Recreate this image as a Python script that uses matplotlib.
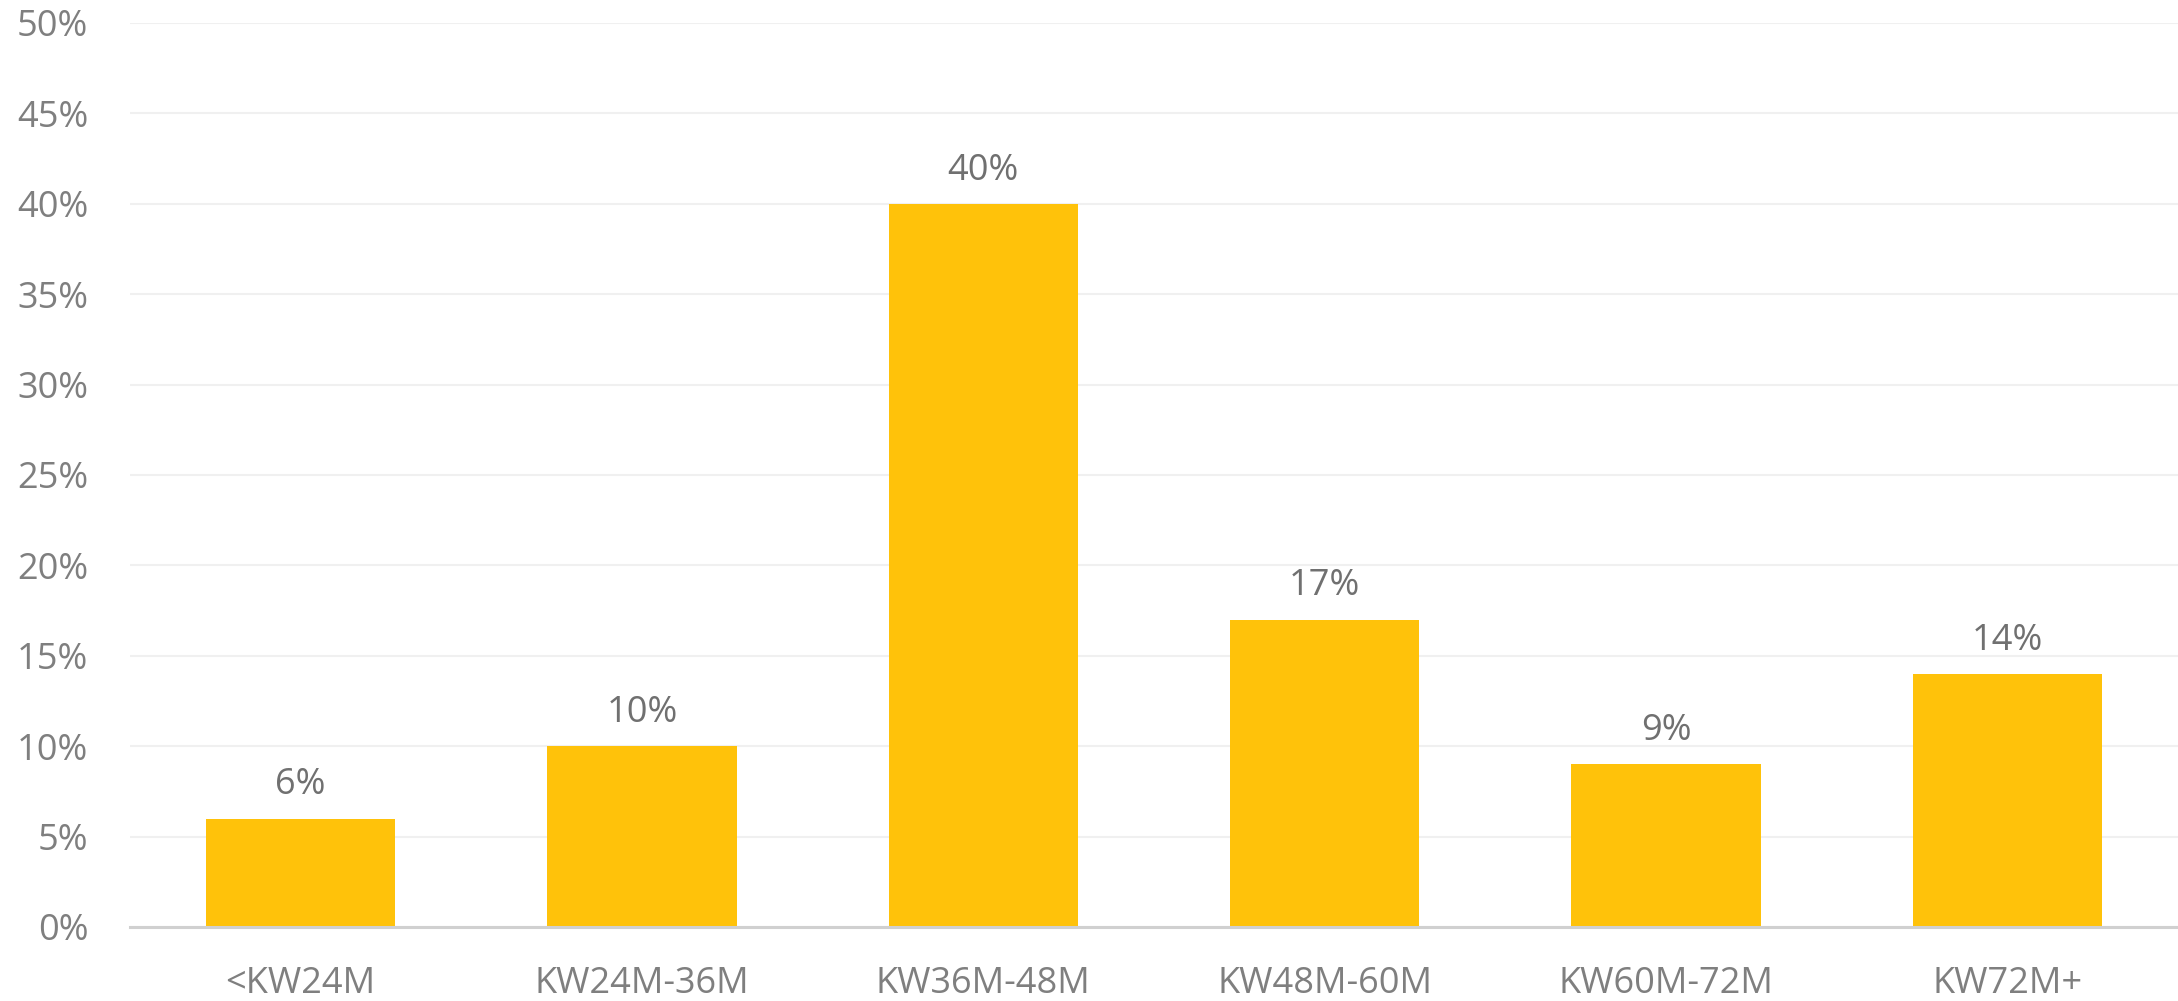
import matplotlib.pyplot as plt
from matplotlib.ticker import FuncFormatter

categories = ['<KW24M', 'KW24M-36M', 'KW36M-48M', 'KW48M-60M', 'KW60M-72M', 'KW72M+']
shares = [6, 10, 40, 17, 9, 14]
yticks = [0, 5, 10, 15, 20, 25, 30, 35, 40, 45, 50]

grey = '#7f7f7f'
plt.rcParams['font.family'] = ['Open Sans', 'DejaVu Sans']

fig = plt.figure(figsize=(21.78, 10.01), dpi=100)
ax = fig.add_axes([130 / 2178, 1 - 927 / 1001, 2048 / 2178, 904 / 1001])

x = list(range(len(categories)))
bars = ax.bar(x, shares, width=0.555, color='#ffc20a', zorder=3)

for b, v in zip(bars, shares):
    ax.annotate(f'{v}%', (b.get_x() + b.get_width() / 2, v),
                xytext=(0, 11), textcoords='offset points',
                ha='center', va='bottom', fontsize=26, color='#707070')

ax.set_xlim(-0.5, len(categories) - 0.5)
ax.set_ylim(0, 50)
ax.set_yticks(yticks)
ax.yaxis.set_major_formatter(FuncFormatter(lambda v, p: f'{v:.0f}%'))
ax.set_xticks(x)
ax.set_xticklabels(categories)
ax.grid(axis='y', color='#f0f0f0', linewidth=1.5, zorder=0)
ax.tick_params(axis='both', length=0, labelsize=26, labelcolor=grey)
ax.tick_params(axis='y', pad=30)
ax.tick_params(axis='x', pad=28)

for s in ['top', 'right', 'left']:
    ax.spines[s].set_visible(False)
ax.spines['bottom'].set_color('#d0d0d0')
ax.spines['bottom'].set_linewidth(2.2)
ax.spines['bottom'].set_zorder(4)

fig.savefig('out.png', dpi=100)
